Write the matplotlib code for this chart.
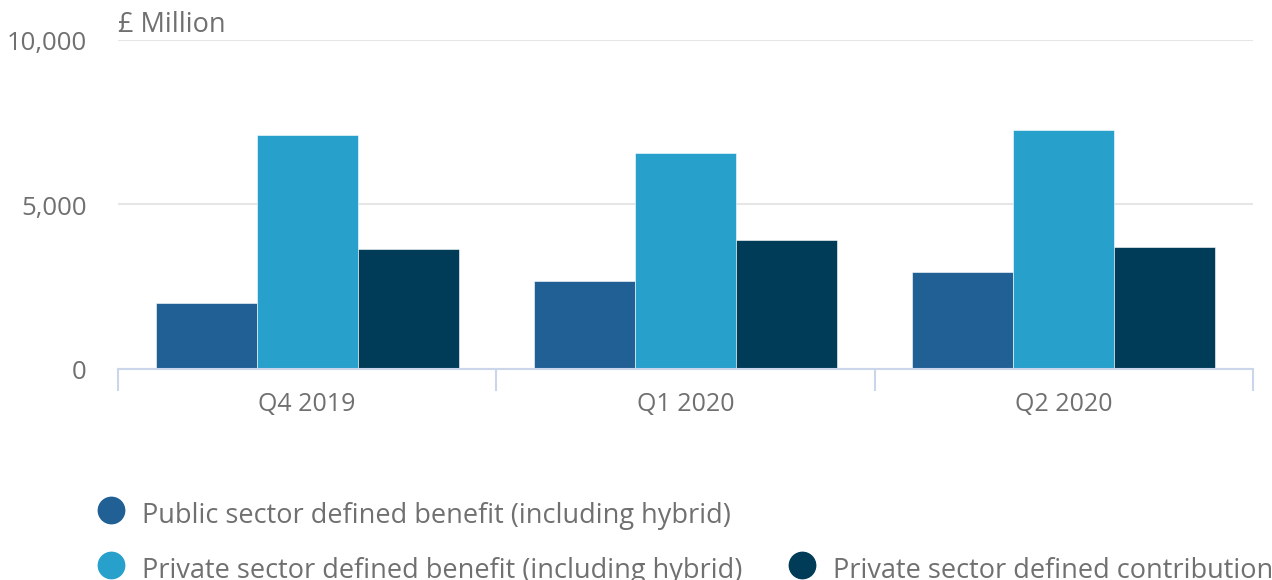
import matplotlib
matplotlib.use("Agg")
import matplotlib.pyplot as plt
import matplotlib.transforms as mtransforms
import numpy as np
from matplotlib.lines import Line2D

categories = ["Q4 2019", "Q1 2020", "Q2 2020"]
series_names = [
    "Public sector defined benefit (including hybrid)",
    "Private sector defined benefit (including hybrid)",
    "Private sector defined contribution",
]
public_db = [1990, 2670, 2945]
private_db = [7095, 6560, 7240]
private_dc = [3625, 3895, 3685]
colors = ["#206095", "#27a0cc", "#003c57"]

plt.rcParams['font.family'] = ['Open Sans', 'DejaVu Sans']
text_color = "#707070"

fig = plt.figure(figsize=(12.72, 5.80), dpi=100)
ax = fig.add_axes([118/1272, 1 - 368.5/580, (1253-118)/1272, (368.5-39.5)/580])

x = np.arange(len(categories))
w = 0.267
for i, (vals, c) in enumerate(zip([public_db, private_db, private_dc], colors)):
    ax.bar(x + (i - 1) * w, vals, width=w, color=c, edgecolor="#ffffff",
           linewidth=0.4, zorder=3)

ax.set_xlim(-0.5, 2.5)
ax.set_ylim(0, 10000)
ax.set_yticks([0, 5000, 10000])
ax.set_yticklabels(["0", "5,000", "10,000"], va='center')
ax.yaxis.grid(True, color="#e6e6e6", linewidth=1.5, zorder=0)
ax.tick_params(axis='y', length=0, pad=22.5, labelsize=18.5, labelcolor=text_color)
for lbl in ax.get_yticklabels():
    lbl.set_transform(lbl.get_transform() + mtransforms.ScaledTranslation(0, -4/100, fig.dpi_scale_trans))

ax.set_xticks([-0.5, 0.5, 1.5, 2.5])
ax.set_xticklabels([])
ax.set_xticks(x, minor=True)
ax.set_xticklabels(categories, minor=True)
ax.tick_params(axis='x', which='major', length=16, width=1.5, color="#ccd6eb")
ax.tick_params(axis='x', which='minor', length=0, pad=17, labelsize=18,
               labelcolor=text_color)

for s in ["top", "right", "left"]:
    ax.spines[s].set_visible(False)
ax.spines["bottom"].set_color("#ccd6eb")
ax.spines["bottom"].set_linewidth(1.5)
ax.spines["bottom"].set_zorder(4)

fig.text(118/1272, 1 - 25/580, "£ Million", fontsize=19.5, color=text_color,
         ha='left', va='center')

# legend
leg_items = [(111, 510, 0), (111, 565, 1), (802, 565, 2)]
for px, py, idx in leg_items:
    fig.add_artist(Line2D([px/1272], [1 - py/580], marker='o', markersize=19,
                          color=colors[idx], linestyle='none',
                          transform=fig.transFigure))
    fig.text((px + 31)/1272, 1 - (py + 6)/580, series_names[idx], fontsize=19.5,
             color=text_color, ha='left', va='center')

fig.savefig("out.png", dpi=100)
